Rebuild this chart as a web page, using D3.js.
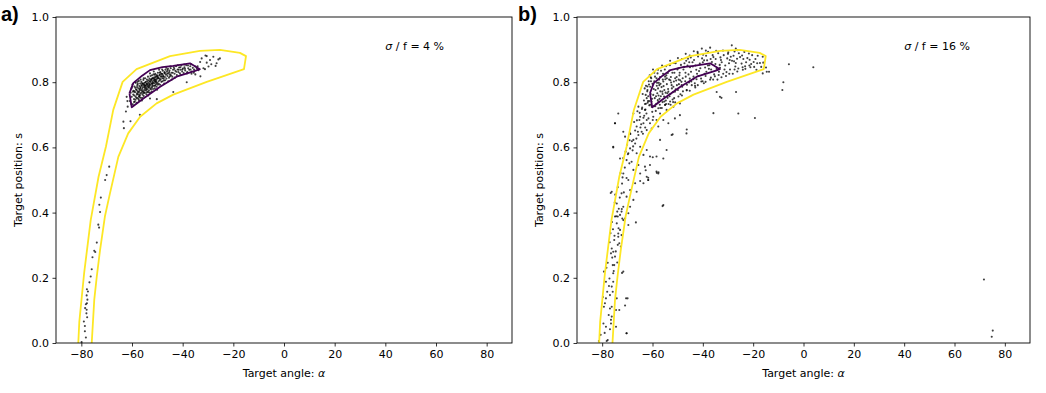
<!DOCTYPE html>
<html>
<head>
<meta charset="utf-8">
<script src="https://cdn.jsdelivr.net/npm/d3@7"></script>
<style>
  body { margin: 0; background: #fff; }
  svg { display: block; font-family: "DejaVu Sans", sans-serif; }
</style>
</head>
<body>
<div id="chart"></div>
<script>
const xTicks = [-80, -60, -40, -20, 0, 20, 40, 60, 80];
const yTicks = [0, 0.2, 0.4, 0.6, 0.8, 1.0];

// outer (yellow) and inner (purple) density contours, same in both panels
const yellowContour = [[-81.2,0],[-80.8,.065],[-78.9,.214],[-76.3,.377],[-73.2,.51],[-70.3,.602],[-67.4,.715],[-63.7,.801],[-58.2,.84],[-45,.88],[-33.2,.896],[-25.3,.899],[-17.4,.89],[-15,.88],[-15.8,.84],[-25.3,.815],[-30.5,.801],[-43.7,.762],[-50.3,.735],[-56.8,.694],[-61.5,.643],[-65.4,.571],[-68.7,.459],[-70.7,.388],[-72.6,.286],[-73.9,.204],[-74.9,.132],[-75.9,0]];
const purpleContour = [[-61,.766],[-59.5,.797],[-56,.82],[-52.9,.837],[-48,.846],[-43.7,.85],[-37.1,.858],[-33.2,.84],[-35.1,.835],[-42.4,.817],[-48.9,.786],[-55.5,.75],[-60.1,.723],[-61,.766]];

// panel a: sigma/f = 4 %
const tailA = [[-69.0,.541],[-70.0,.515],[-70.6,.50],[-72.3,.446],[-72.9,.424],[-72.6,.402],[-73.3,.363],[-73.0,.354],[-73.9,.308],[-74.9,.283],[-74.5,.279],[-75.6,.263],[-75.9,.226],[-76.3,.204],[-76.8,.186],[-77.8,.165],[-77.4,.158],[-77.9,.146],[-77.6,.133],[-78.2,.119],[-77.8,.122],[-78.5,.107],[-78.0,.091],[-79.0,.066],[-77.7,.079],[-78.6,.052],[-78.6,.036],[-78.2,.017],[-79.9,.003],[-77.9,.102],
  [-63.2,.659],[-63.4,.679],[-62.4,.71],[-61.7,.725],[-60.6,.68],[-56.9,.70],[-62.1,.755],[-61.8,.742],[-52.9,.75],[-50.2,.748],[-43.7,.77],[-38.4,.80],[-36.5,.826],[-35.0,.824],[-31.2,.84],[-33.0,.818],
  [-30.5,.88],[-29.2,.868],[-25.9,.87],[-26.6,.858],[-28.7,.855],[-30.5,.86],[-31.8,.843],[-33.1,.862],[-32.5,.873],[-27.9,.878],[-25.3,.873],[-31.0,.882],[-29.8,.848],[-27.0,.85]];
const clusterA = [[-60.8,.742],[-60.5,.768],[-60.2,.781],[-60.1,.755],[-59.8,.793],[-59.7,.732],[-59.5,.762],[-59.4,.774],[-59.2,.748],[-59.0,.787],[-58.9,.741],[-58.8,.769],[-58.6,.756],[-58.5,.798],[-58.4,.778],[-58.2,.737],[-58.1,.762],[-58.0,.785],[-57.9,.751],[-57.8,.772],
  [-57.7,.795],[-57.6,.763],[-57.5,.781],[-57.4,.748],[-57.3,.804],[-57.2,.771],[-57.1,.788],[-57.0,.758],[-56.9,.779],[-56.8,.796],[-56.7,.766],[-56.6,.785],[-56.5,.752],[-56.4,.775],[-56.3,.801],[-56.2,.768],[-56.1,.789],[-56.0,.779],[-55.9,.762],[-55.8,.795],[-55.7,.784],[-55.6,.771],[-55.5,.807],[-55.4,.758],[-55.3,.791],[-55.2,.776],[-55.1,.798],[-55.0,.784],
  [-54.9,.767],[-54.8,.812],[-54.7,.789],[-54.6,.775],[-54.5,.801],[-54.4,.782],[-54.3,.763],[-54.2,.794],[-54.1,.808],[-54.0,.779],[-53.9,.791],[-53.8,.771],[-53.7,.817],[-53.6,.798],[-53.5,.785],[-53.4,.806],[-53.3,.775],[-53.2,.793],[-53.1,.811],[-53.0,.788],[-52.9,.768],[-52.8,.801],[-52.7,.819],[-52.6,.792],[-52.5,.778],[-52.4,.809],[-52.3,.797],[-52.2,.784],[-52.1,.821],[-52.0,.803],[-51.9,.791],[-51.8,.812],[-51.7,.779],[-51.6,.799],[-51.5,.824],[-51.4,.806],[-51.3,.789],[-51.2,.815],[-51.1,.797],[-51.0,.781],[-50.9,.809],[-50.8,.826],[-50.7,.801],[-50.6,.792],[-50.5,.818],[-50.4,.807],[-50.3,.786],[-50.2,.822],[-50.1,.811],[-50.0,.798],
  [-49.8,.829],[-49.6,.812],[-49.4,.795],[-49.2,.821],[-49.0,.806],[-48.8,.831],[-48.6,.817],[-48.4,.801],[-48.2,.826],[-48.0,.812],[-47.8,.835],[-47.6,.819],[-47.4,.805],[-47.2,.829],[-47.0,.816],[-46.8,.838],[-46.6,.823],[-46.4,.811],[-46.2,.832],[-46.0,.819],[-45.8,.841],[-45.6,.827],[-45.4,.814],[-45.2,.836],[-45.0,.824],
  [-44.7,.843],[-44.4,.829],[-44.1,.817],[-43.8,.838],[-43.5,.846],[-43.2,.826],[-42.9,.835],[-42.6,.849],[-42.3,.822],[-42.0,.839],[-41.7,.831],[-41.4,.845],[-41.1,.827],[-40.8,.838],[-40.5,.851],[-40.2,.833],[-39.9,.842],[-39.6,.828],[-39.3,.846],[-39.0,.836],[-38.6,.852],[-38.2,.831],[-37.8,.843],[-37.4,.838],[-37.0,.849],[-36.5,.833],[-36.0,.844],[-35.5,.839],[-35.0,.848],[-34.4,.842],[-33.8,.837],
  [-59.6,.771],[-59.1,.759],[-58.7,.783],[-58.3,.752],[-57.9,.791],[-57.5,.769],[-57.1,.754],[-56.7,.782],[-56.3,.791],[-55.9,.773],[-55.5,.766],[-55.1,.787],[-54.7,.799],[-54.3,.777],[-53.9,.803],[-53.5,.769],[-53.1,.795],[-52.7,.781],[-52.3,.808],[-51.9,.787],[-51.5,.812],[-51.1,.803],[-50.7,.815],[-50.3,.796],[-49.9,.819],[-49.5,.803],[-49.1,.829],[-48.7,.809],[-48.3,.818],[-47.9,.824],[-47.5,.811],[-47.1,.831],[-58.2,.776],[-56.9,.761],[-55.6,.795],[-54.6,.789],[-53.3,.783],[-52.0,.796],[-50.8,.805],[-49.7,.814],
  [-58.7,.801],[-57.3,.757],[-56.1,.744],[-55.4,.812],[-54.2,.769],[-53.6,.759],[-52.9,.827],[-52.2,.771],[-51.4,.833],[-50.9,.789],[-50.1,.777],[-49.3,.838],[-48.9,.792],[-48.1,.839],[-47.3,.796],[-46.5,.844],[-45.7,.803],[-44.9,.848],[-44.3,.808],[-43.1,.814],[-41.9,.852],[-40.7,.822],[-39.4,.854],[-38.3,.827],[-36.7,.855],[-35.6,.829],[-34.1,.849],[-60.3,.733],[-59.9,.786],[-59.2,.739],[-58.6,.746],[-57.8,.801],[-57.2,.744],[-56.6,.808],[-55.9,.751],[-55.2,.769],[-54.8,.781],[-54.1,.795],[-53.4,.789],[-52.6,.806],[-51.8,.797],[-51.1,.809],[-50.5,.801],[-49.8,.792],[-49.2,.811],[-48.5,.826],[-47.7,.817],[-46.9,.806],[-46.1,.826],[-45.3,.831],[-44.6,.821],[-43.9,.829],[-43.3,.841],[-42.5,.832],[-41.6,.838],[-40.9,.846],[-40.1,.839],[-39.1,.841],[-37.9,.851],[-36.9,.839],[-59.0,.772],[-58.0,.766],[-57.0,.776],[-56.0,.797],[-55.0,.792],[-54.0,.786],[-53.0,.802],[-52.0,.812],[-51.0,.823],[-50.0,.817],[-49.0,.823],[-48.0,.803],[-47.0,.827],[-46.0,.837],[-45.0,.818]];

// panel b: sigma/f = 16 %
const lowerB = [[-74.0,.403],[-72.3,.403],[-73.8,.388],[-72.0,.382],[-71.6,.377],[-74.2,.367],[-69.6,.362],[-72.9,.347],[-73.6,.336],[-72.3,.331],[-73.6,.326],[-75.2,.316],[-73.2,.306],[-73.8,.301],[-72.6,.296],[-76.2,.290],[-75.6,.280],[-76.5,.275],[-74.9,.265],[-75.8,.239],[-75.2,.239],[-79.3,.219],[-75.6,.214],[-71.6,.219],[-78.5,.188],[-75.6,.188],[-76.2,.173],[-78.0,.157],[-75.8,.157],[-76.9,.147],[-78.5,.137],[-74.2,.137],[-69.9,.137],[-78.9,.122],[-79.3,.111],[-76.2,.111],[-76.9,.106],[-74.5,.101],[-73.2,.101],[-70.9,.115],[-76.2,.081],[-76.5,.071],[-79.5,.060],[-76.5,.060],[-78.5,.050],[-74.5,.050],[-76.9,.042],[-70.3,.030],[-80.6,.025],[-77.8,.009],[-78.2,.006],[-81.3,.006],
  [-77.1,.198],[-75.4,.221],[-77.8,.246],[-76.0,.262],[-74.6,.281],[-77.0,.309],[-75.1,.329],[-73.5,.352],[-76.1,.371],[-74.4,.389],[-78.3,.231],[-76.7,.337],[-74.0,.247],[-77.3,.175],[-79.7,.141],[-77.4,.086],[-79.0,.031],[-75.7,.349]];
const middleB = [[-74.9,.674],[-71.6,.648],[-70.9,.633],[-68.9,.643],[-67.6,.623],[-65.6,.638],[-64.3,.648],[-62.3,.653],[-60.3,.658],[-57.7,.664],[-66.9,.612],[-64.9,.602],[-62.3,.592],[-68.9,.597],[-69.6,.582],[-66.3,.582],[-63.6,.577],[-61.0,.572],[-58.4,.572],[-55.7,.566],[-52.4,.638],[-46.5,.643],[-75.6,.602],[-70.3,.561],[-68.3,.556],[-65.6,.546],[-63.0,.541],[-61.0,.546],[-54.4,.592],[-57.0,.623],[-67.6,.531],[-64.9,.520],[-62.3,.510],[-71.6,.520],[-69.6,.500],[-66.9,.490],[-63.6,.490],[-61.7,.500],[-58.4,.526],[-57.7,.520],[-68.9,.469],[-66.3,.464],[-72.3,.459],[-70.3,.449],[-67.6,.439],[-76.2,.464],[-74.2,.428],[-71.6,.418],[-68.9,.418],[-69.6,.398],[-72.9,.393],[-74.9,.388],[-70.9,.382],[-55.7,.423],[-61.7,.507],[-64.9,.497],
  [-73.6,.704],[-67.6,.704],[-64.9,.694],[-62.3,.684],[-59.7,.694],[-57.0,.704],[-54.4,.715],[-51.7,.725],[-49.1,.735],[-65.6,.725],[-63.0,.715],[-60.3,.725],[-57.7,.720],[-55.0,.730],[-63.6,.674],[-61.0,.674],[-58.4,.684],[-66.3,.664],[-55.7,.684],[-53.7,.674],[-51.1,.689],[-49.1,.699],
  [-72.2,.411],[-75.0,.431],[-73.0,.446],[-71.4,.462],[-73.8,.478],[-72.1,.489],[-70.3,.506],[-72.7,.521],[-71.0,.538],[-69.2,.551],[-71.6,.567],[-69.8,.579],[-67.9,.591],[-70.1,.608],[-68.2,.619],[-66.4,.627],[-68.8,.641],[-66.9,.652],[-64.8,.661],[-67.3,.678],[-65.2,.684],[-63.3,.697],[-66.0,.711],[-64.1,.722],[-62.6,.734],[-74.8,.455],[-72.9,.566],[-70.7,.587],[-69.1,.622],[-67.7,.603],[-71.9,.508],[-73.4,.412]];
const upperB = [[-63.1,.781],[-58.4,.812],[-61.9,.737],[-55.3,.776],[-49.7,.843],[-52.6,.799],[-44.1,.861],[-57.2,.749],[-46.8,.817],[-40.3,.873],[-60.7,.764],[-53.9,.828],[-37.4,.852],[-48.2,.786],[-42.6,.838],[-34.9,.871],[-59.3,.803],[-31.7,.883],[-51.1,.771],[-56.6,.835],[-45.5,.799],[-28.4,.866],[-62.8,.716],[-38.9,.819],[-54.7,.744],[-25.7,.889],[-47.3,.858],[-33.2,.844],[-58.9,.726],[-43.8,.809],[-29.9,.892],[-50.4,.816],[-22.3,.874],[-36.1,.883],[-61.4,.793],[-41.2,.857],[-55.9,.808],[-27.1,.848],[-48.9,.763],[-19.8,.862],[-53.1,.852],[-39.6,.797],[-60.2,.749],[-32.5,.861],[-45.9,.872],[-57.8,.781],[-24.6,.857],[-43.0,.784],[-51.8,.739],[-35.5,.824],[-18.2,.881],[-63.9,.764],[-30.8,.819],[-49.2,.829],[-56.3,.721],[-41.9,.879],[-37.9,.893],[-26.4,.872],[-59.8,.839],[-46.4,.776],[-21.1,.846],[-52.3,.781],[-34.2,.808],[-54.1,.766],[-44.7,.832],[-29.2,.839],[-61.1,.821],[-39.1,.845],[-23.5,.893],[-57.5,.798],[-48.5,.801],[-33.9,.889],[-42.3,.826],[-55.1,.839],[-27.8,.881],[-50.8,.858],[-20.4,.883],[-45.1,.846],[-62.3,.751],[-36.7,.839],[-31.1,.851],[-53.6,.733],[-40.7,.811],[-58.1,.766],[-24.1,.838],[-47.7,.839],[-35.0,.856],[-43.5,.868],[-17.3,.859],[-56.9,.772],[-30.3,.873],[-51.5,.802],[-38.3,.867],[-60.9,.731],[-26.9,.859],[-49.9,.776],[-44.4,.791],[-33.6,.832],[-22.8,.861],[-54.5,.821],[-41.5,.834],[-58.6,.757],[-37.1,.808],[-28.9,.878],[-46.1,.851],[-52.9,.764],[-63.4,.744],[-39.9,.884],[-32.0,.897],[-55.6,.788],[-25.2,.877],[-48.0,.812],[-42.9,.851],[-60.5,.812],[-35.8,.877],[-19.1,.871],[-51.3,.829],[-45.7,.824],[-57.0,.816],[-29.6,.858],[-53.4,.808],[-38.6,.832],[-21.7,.888],[-62.0,.776],[-47.0,.803],[-34.5,.841],[-43.2,.797],[-55.4,.756],[-27.4,.894],[-49.5,.794],[-40.0,.861],[-58.3,.789],[-31.4,.839],[-23.9,.871],[-46.6,.866],[-52.0,.747],[-36.4,.862],[-59.5,.779],[-44.0,.848],[-16.8,.847],[-50.1,.839],[-41.7,.819],[-54.3,.794],[-33.0,.876],[-57.7,.739],[-28.1,.826],[-48.7,.853],[-38.0,.851],[-61.7,.757],[-25.9,.842],[-45.2,.811],[-53.8,.779],[-30.0,.887],[-42.1,.893],[-56.0,.764],[-35.2,.818],[-49.3,.821],[-20.8,.856],[-60.0,.795],[-39.3,.826],[-47.9,.772],[-32.8,.868],[-55.8,.826],[-44.8,.876],[-26.2,.898],[-51.7,.786],[-37.6,.841],[-58.0,.827],[-41.0,.843],[-23.2,.849],[-46.9,.829],[-53.3,.836],[-34.7,.896],[-62.6,.789],[-43.7,.817],[-29.3,.868],[-50.6,.805],[-18.7,.838],[-56.8,.795],[-40.6,.802],[-47.4,.847],[-31.9,.826],[-54.9,.809],[-36.9,.871],[-59.1,.751],[-24.4,.882],[-45.4,.861],[-52.7,.816],[-38.7,.881],[-42.5,.809],[-61.5,.803],[-27.6,.864],[-49.0,.806],[-33.3,.853],[-57.4,.808],[-44.6,.802],[-21.4,.869],[-55.0,.731],[-39.5,.867],[-46.3,.792],
  [-60.4,.741],[-58.8,.776],[-57.1,.731],[-55.7,.802],[-54.0,.752],[-52.4,.791],[-59.7,.761],[-56.4,.785],[-53.7,.771],[-51.0,.812],[-61.3,.729],[-58.2,.798],[-55.3,.741],[-52.9,.806],[-50.3,.791],[-57.6,.759],[-54.6,.733],[-59.0,.817],[-56.1,.771],[-53.2,.757],[-60.9,.786],[-57.9,.745],[-55.0,.817],[-51.9,.769],[-49.6,.808],[-62.1,.772],[-58.5,.734],[-56.7,.757],[-54.3,.812],[-52.1,.829],[-60.6,.803],[-57.3,.791],[-53.0,.741],[-50.8,.778],[-48.4,.791],[-61.8,.742],[-59.4,.726],[-56.0,.739],[-54.8,.768],[-51.4,.751],[-63.0,.733],[-62.4,.704],[-60.1,.709],[-58.7,.712],[-56.9,.721],[-64.2,.718],[-63.6,.691],[-61.6,.689],[-59.9,.684],[-65.1,.706],[-64.5,.671],[-62.9,.661],[-66.2,.683],[-65.8,.648],[-63.8,.642],
  [-62.7,.761],[-62.0,.787],[-61.3,.742],[-60.7,.815],[-59.3,.829],[-57.8,.838],[-56.2,.851],[-54.6,.849],[-53.0,.866],[-51.5,.859],[-49.9,.874],[-48.3,.871],[-46.8,.887],[-45.2,.882],[-43.6,.895],[-42.0,.889],[-40.4,.903],[-38.8,.897],[-37.1,.906],[-28.5,.913],[-26.9,.903],
  [-52.8,.731],[-51.0,.738],[-49.7,.756],[-48.3,.759],[-46.4,.775],[-45.2,.774],[-43.1,.789],[-42.0,.791],[-40.1,.803],[-38.9,.801],[-36.8,.814],[-35.9,.808],[-33.7,.822],[-32.6,.815],[-30.6,.831],[-29.5,.826],[-27.4,.839],[-26.3,.833],[-24.2,.846],[-23.1,.841],[-21.5,.851],[-19.6,.847],[-18.4,.858]];
const outliersB = [[-16.2,.878],[-16.0,.86],[-16.2,.827],[-14.9,.845],[-13.7,.832],[-5.8,.855],[3.9,.846],[-8.0,.80],[-8.4,.776],[71.7,.195],[75.2,.038],[74.8,.019],[-25.9,.704],[-19.3,.69],[-26.8,.77],[-35.8,.705],[-33.2,.755],[-32.6,.752],[-34.5,.77],[-46.4,.655],[-52.0,.64],[-58.3,.522],[-57.6,.524],[-56.0,.42],[-61.7,.50],[-62.7,.53],[-59.9,.57],[-66.6,.37],[-70.5,.137],[-70.3,.03],[-76.6,.46],[-74.9,.674],[-75.6,.60],[-72.1,.215],[-14.6,.832]];

const pointsA = tailA.concat(clusterA);
const pointsB = lowerB.concat(middleB, upperB, outliersB);

const width = 1046;
const height = 393;
const plotTop = 17;
const plotBottom = 343;

const svg = d3.select("#chart")
    .append("svg")
    .attr("width", width)
    .attr("height", height);

function drawPanel(id, left, right, points, tag, tagX, note) {
    const x = d3.scaleLinear().domain([-90, 90]).range([left, right]);
    const y = d3.scaleLinear().domain([0, 1]).range([plotBottom, plotTop]);
    const g = svg.append("g");

    g.append("clipPath").attr("id", "clip-" + id)
        .append("rect")
        .attr("x", left).attr("y", plotTop)
        .attr("width", right - left).attr("height", plotBottom - plotTop);

    const plot = g.append("g").attr("clip-path", `url(#clip-${id})`);

    plot.selectAll("circle")
        .data(points)
        .join("circle")
        .attr("cx", d => x(d[0]))
        .attr("cy", d => y(d[1]))
        .attr("r", 1.05)
        .attr("fill", "#000")
        .attr("fill-opacity", 0.75);

    const line = d3.line().x(d => x(d[0])).y(d => y(d[1]));

    plot.append("path")
        .attr("d", line(yellowContour))
        .attr("fill", "none")
        .attr("stroke", "#fde725")
        .attr("stroke-width", 1.8)
        .attr("stroke-linejoin", "round");

    plot.append("path")
        .attr("d", line(purpleContour))
        .attr("fill", "none")
        .attr("stroke", "#440154")
        .attr("stroke-width", 1.8)
        .attr("stroke-linejoin", "round");

    // axes
    const xAxis = g.append("g")
        .attr("transform", `translate(0,${plotBottom})`)
        .call(d3.axisBottom(x).tickValues(xTicks).tickFormat(d3.format("d"))
            .tickSize(3.5).tickPadding(3.5).tickSizeOuter(0));
    const yAxis = g.append("g")
        .attr("transform", `translate(${left},0)`)
        .call(d3.axisLeft(y).tickValues(yTicks).tickFormat(d3.format(".1f"))
            .tickSize(3.5).tickPadding(3.5).tickSizeOuter(0));

    [xAxis, yAxis].forEach(a => {
        a.select(".domain").remove();
        a.selectAll("text").attr("font-size", 11).attr("font-family", "DejaVu Sans").attr("fill", "#000");
        a.selectAll("line").attr("stroke", "#000").attr("stroke-width", 0.8);
    });

    g.append("rect")
        .attr("x", left).attr("y", plotTop)
        .attr("width", right - left).attr("height", plotBottom - plotTop)
        .attr("fill", "none")
        .attr("stroke", "#000")
        .attr("stroke-width", 0.9);

    // labels
    const xl = g.append("text")
        .attr("x", (left + right) / 2)
        .attr("y", 377)
        .attr("text-anchor", "middle")
        .attr("font-size", 11)
        .text("Target angle: ");
    xl.append("tspan").attr("font-style", "italic").text("α");

    g.append("text")
        .attr("transform", `translate(${left - 34},${(plotTop + plotBottom) / 2}) rotate(-90)`)
        .attr("text-anchor", "middle")
        .attr("font-size", 11)
        .text("Target position: s");

    const nt = g.append("text")
        .attr("x", x(40))
        .attr("y", y(0.9))
        .attr("font-size", 11);
    nt.append("tspan").attr("font-style", "italic").text("σ");
    nt.append("tspan").text(" / f = " + note);

    g.append("text")
        .attr("x", tagX)
        .attr("y", 21)
        .attr("font-family", "Liberation Sans, Arial, sans-serif")
        .attr("font-weight", "bold")
        .attr("font-size", 20)
        .text(tag);
}

drawPanel("a", 56, 512, pointsA, "a)", 1, "4 %");
drawPanel("b", 577, 1030, pointsB, "b)", 518, "16 %");
</script>
</body>
</html>
